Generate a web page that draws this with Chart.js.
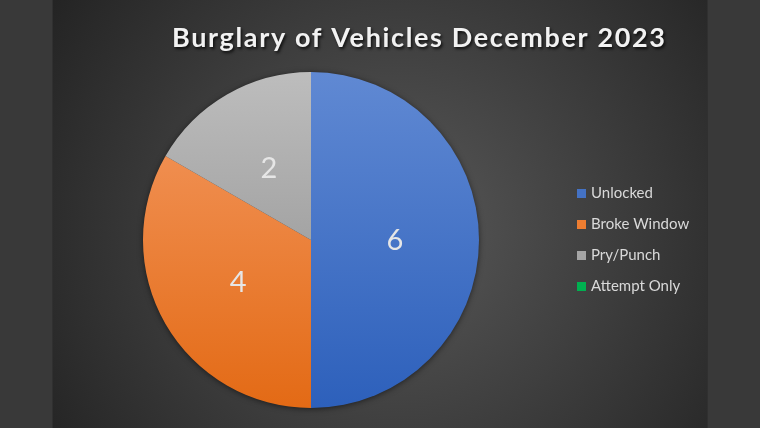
<!DOCTYPE html>
<html>
<head>
<meta charset="utf-8">
<script src="https://cdn.jsdelivr.net/npm/chart.js@4"></script>
<style>
  html, body { margin: 0; padding: 0; background: #393939; }
  #wrap { width: 760px; height: 428px; }
</style>
</head>
<body>
<div id="wrap"><canvas id="pie"></canvas></div>
<script>
const title = 'Burglary of Vehicles December 2023';
const categories = ['Unlocked', 'Broke Window', 'Pry/Punch', 'Attempt Only'];
const counts = [6, 4, 2, 0];
const baseColors = ['#4472c4', '#ed7d31', '#a5a5a5', '#00b050'];
const gradTops = ['#6089d3', '#f49a63', '#bdbdbd', '#33c070'];
const gradBottoms = ['#2d60bb', '#e36a15', '#8a8a8a', '#00a048'];

// side bars + dark radial panel
const backdrop = {
    id: 'backdrop',
    beforeDraw(chart) {
        const c = chart.ctx;
        c.save();
        c.fillStyle = '#393939';
        c.fillRect(0, 0, 760, 428);
        const g = c.createRadialGradient(400, 230, 10, 400, 230, 430);
        g.addColorStop(0, '#575757');
        g.addColorStop(1, '#222222');
        c.fillStyle = g;
        c.fillRect(53, 0, 654, 428);
        c.fillStyle = '#303030';
        c.fillRect(52, 0, 1, 428);
        c.fillRect(707, 0, 1, 428);
        c.restore();
    }
};

// one soft shadow under the whole pie (not per slice)
const pieShadow = {
    id: 'pieShadow',
    beforeDatasetsDraw(chart) {
        const arc = chart.getDatasetMeta(0).data[0];
        if (!arc) return;
        const c = chart.ctx;
        c.save();
        c.shadowColor = 'rgba(0,0,0,0.6)';
        c.shadowBlur = 6;
        c.shadowOffsetY = 1;
        c.fillStyle = '#3a3a3a';
        c.beginPath();
        c.arc(arc.x, arc.y, arc.outerRadius - 0.5, 0, Math.PI * 2);
        c.fill();
        c.restore();
    }
};

// value labels, title and legend
const extras = {
    id: 'extras',
    afterDraw(chart) {
        const c = chart.ctx;
        c.save();
        // labels
        c.font = '29px Lato, "Open Sans", sans-serif';
        c.fillStyle = '#e6e6e6';
        c.textAlign = 'center';
        c.textBaseline = 'middle';
        chart.getDatasetMeta(0).data.forEach((arc, i) => {
            if (!counts[i]) return;
            const p = arc.getCenterPoint();
            c.fillText(String(counts[i]), p.x, p.y + 1);
        });

        // title
        c.font = 'bold 27px Lato, "Open Sans", sans-serif';
        c.textAlign = 'left';
        c.textBaseline = 'alphabetic';
        const want = 493;
        const w0 = c.measureText(title).width;
        c.letterSpacing = ((want - w0) / (title.length - 1)).toFixed(2) + 'px';
        c.shadowColor = 'rgba(0,0,0,0.75)';
        c.shadowBlur = 3;
        c.shadowOffsetX = 1.5;
        c.shadowOffsetY = 1.5;
        c.fillStyle = '#f2f2f2';
        c.fillText(title, 172, 47);
        c.letterSpacing = '0px';
        c.shadowColor = 'transparent';

        // legend
        c.font = '15px Lato, "Open Sans", sans-serif';
        c.textBaseline = 'middle';
        categories.forEach((name, i) => {
            const y = 193 + i * 31;
            c.fillStyle = baseColors[i];
            c.fillRect(577, y - 4, 9, 9);
            c.fillStyle = '#d9d9d9';
            c.fillText(name, 591, y);
        });
        c.restore();
    }
};

function sliceFill(context) {
    const chart = context.chart;
    const area = chart.chartArea;
    const i = context.dataIndex;
    if (!area) return baseColors[i];
    const g = chart.ctx.createLinearGradient(0, area.top, 0, area.bottom);
    g.addColorStop(0, gradTops[i]);
    g.addColorStop(1, gradBottoms[i]);
    return g;
}

new Chart(document.getElementById('pie'), {
    type: 'pie',
    data: {
        labels: categories,
        datasets: [{
            data: counts,
            backgroundColor: sliceFill,
            borderWidth: 0
        }]
    },
    options: {
        responsive: true,
        maintainAspectRatio: false,
        animation: false,
        layout: { padding: { top: 72, bottom: 20, left: 143, right: 281 } },
        plugins: {
            legend: { display: false },
            title: { display: false },
            tooltip: { enabled: false }
        }
    },
    plugins: [backdrop, pieShadow, extras]
});
</script>
</body>
</html>
